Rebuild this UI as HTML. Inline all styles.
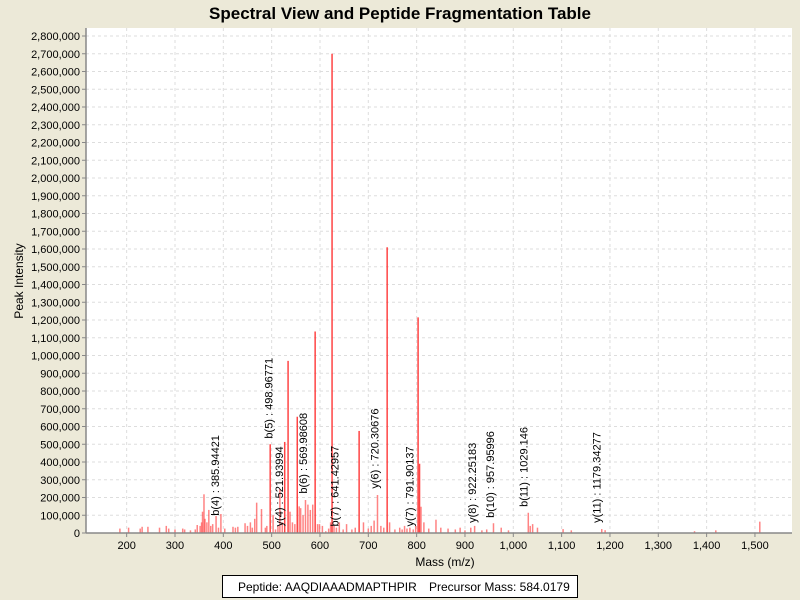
<!DOCTYPE html>
<html><head><meta charset="utf-8">
<style>
html,body{margin:0;padding:0;background:#ece9d8;}
svg{display:block;font-family:"Liberation Sans",sans-serif;}
</style></head>
<body>
<svg id="chart" width="800" height="600" xmlns="http://www.w3.org/2000/svg">
<rect x="0" y="0" width="800" height="600" fill="#ece9d8"/>
<text x="400" y="19" text-anchor="middle" font-size="17" font-weight="bold" fill="#000">Spectral View and Peptide Fragmentation Table</text>
<rect x="86" y="28" width="706" height="505" fill="#fff"/>
<g id="grid"></g>
<g id="peaks"></g>
<g id="annots"></g>
<line x1="86" y1="28" x2="86" y2="533" stroke="#888" stroke-width="1.5"/>
<line x1="86" y1="533" x2="792" y2="533" stroke="#888" stroke-width="1.5"/>
<g id="yticks"></g>
<g id="xticks"></g>
<text transform="translate(23,281) rotate(-90)" text-anchor="middle" font-size="12">Peak Intensity</text>
<text x="445" y="566" text-anchor="middle" font-size="12">Mass (m/z)</text>
<g>
<rect x="222.5" y="575.5" width="355" height="22" fill="#fff" stroke="#000"/>
<text x="238" y="591" font-size="12">Peptide: AAQDIAAADMAPTHPIR</text>
<text x="429" y="591" font-size="12">Precursor Mass: 584.0179</text>
</g>
</svg>
<script>
const masses = [186,204,228,232,244,268,282,287,300,316,320,332,342,346,352,355,357,360,362,366,370,374,378,385,390,395,403,420,425,430,445,450,456,460,465,469,479,487,490,497,503,508,513,517,522,527,534,538,543,548,553,557,560,565,570,575,580,585,590,595,599,605,612,618,622,625,629,634,640,648,655,666,673,681,690,700,706,712,719,726,732,739,744,755,765,770,775,780,786,793,798,803,806,809,815,825,840,850,865,880,890,900,912,920,935,945,959,975,990,1031,1035,1040,1050,1103,1120,1183,1190,1375,1419,1510];
const intensities = [25,30,25,35,35,30,40,25,20,25,20,15,20,45,40,60,120,218,80,60,130,40,50,96,30,107,25,35,30,35,55,40,60,30,80,171,135,30,40,500,100,20,40,248,60,513,970,120,60,50,655,150,140,100,186,160,130,160,1135,50,50,40,10,25,60,2700,40,30,60,20,50,20,30,575,60,25,40,70,214,40,30,1610,60,20,30,20,40,25,30,20,40,1215,390,148,60,25,75,30,25,20,30,15,30,40,15,20,55,30,15,114,40,50,30,22,15,22,16,10,15,64];
const annotLabels = ["b(4) : 385.94421","b(5) : 498.96771","y(4) : 521.93994","b(6) : 569.98608","b(7) : 641.42957","y(6) : 720.30676","y(7) : 791.90137","y(8) : 922.25183","b(10) : 957.95996","b(11) : 1029.146","y(11) : 1179.34277"];
const annotMasses = [383,493,515,565,630,713,785,915,952,1021,1172];
const annotIntensities = [80,515,20,205,20,233,20,40,68,130,40];
const yTicks = [0,100,200,300,400,500,600,700,800,900,1000,1100,1200,1300,1400,1500,1600,1700,1800,1900,2000,2100,2200,2300,2400,2500,2600,2700,2800];
const xTicks = [200,300,400,500,600,700,800,900,1000,1100,1200,1300,1400,1500];

const NS="http://www.w3.org/2000/svg";
function xs(m){return 513.3+(m-1000)*0.4833;}
function ys(v){return 533-v*0.1775;}
function mk(tag,attrs,parent){const e=document.createElementNS(NS,tag);for(const k in attrs)e.setAttribute(k,attrs[k]);parent.appendChild(e);return e;}
function fmt(n){return n.toString().replace(/\B(?=(\d{3})+(?!\d))/g,",");}
const grid=document.getElementById('grid'),peaks=document.getElementById('peaks'),ann=document.getElementById('annots'),yt=document.getElementById('yticks'),xt=document.getElementById('xticks');
yTicks.forEach(v=>{
  const y=ys(v);
  if(v>0){const g=mk('line',{x1:86,x2:792,y1:y,y2:y,stroke:'#ddd','stroke-dasharray':'3,3'},grid);
  
  }
  const t=mk('line',{x1:82,x2:86,y1:y,y2:y,stroke:'#888'},yt);
  
  
  const l=mk('text',{x:80,y:y+4,'text-anchor':'end','font-size':11},yt);
  
  
  l.textContent=fmt(v*1000);
});
xTicks.forEach(m=>{
  const x=xs(m);
  const g=mk('line',{x1:x,x2:x,y1:28,y2:533,stroke:'#ddd','stroke-dasharray':'3,3'},grid);
  
  
  const t=mk('line',{x1:x,x2:x,y1:533,y2:537,stroke:'#888'},xt);
  
  
  const l=mk('text',{x:x,y:549,'text-anchor':'middle','font-size':11},xt);
  
  
  l.textContent=fmt(m);
});
masses.forEach((m,i)=>{
  const v=intensities[i];
  const p=mk('line',{x1:xs(m),x2:xs(m),y1:533,y2:ys(v),stroke:'#ff3030','stroke-opacity':v>300?0.9:0.6,'stroke-width':1.5},peaks);
  
  
});
annotLabels.forEach((s,i)=>{
  const x=xs(annotMasses[i])+4, y=ys(annotIntensities[i])-3;
  const t=mk('text',{transform:`translate(${x},${y}) rotate(-90)`,'font-size':11},ann);
  
  
  t.textContent=s;
});
</script>
</body></html>
